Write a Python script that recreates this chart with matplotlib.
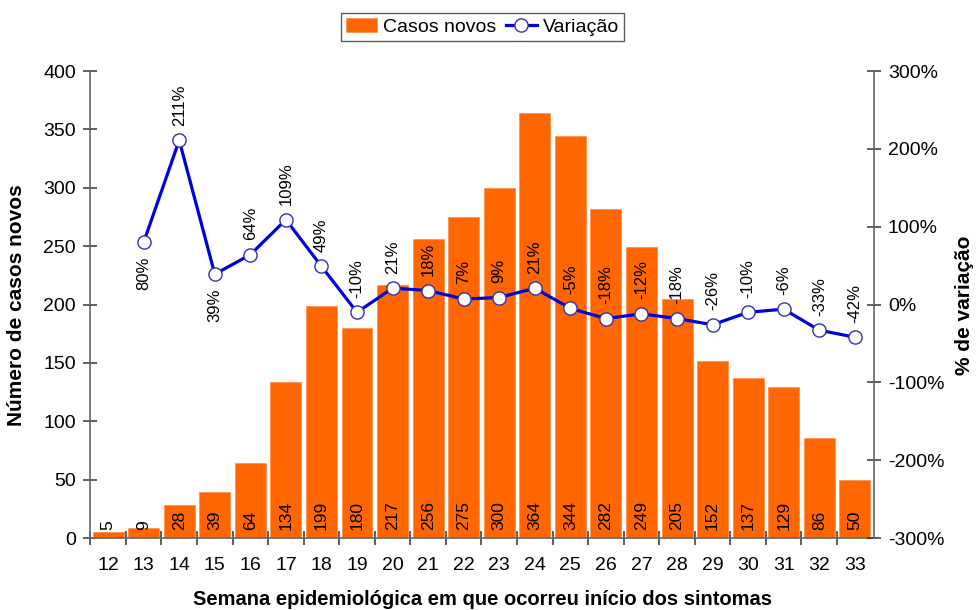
import matplotlib
matplotlib.use("Agg")
import matplotlib.pyplot as plt
from matplotlib.ticker import FuncFormatter

plt.rcParams['font.family'] = ['Liberation Sans', 'DejaVu Sans']

weeks = list(range(12, 34))
casos = [5, 9, 28, 39, 64, 134, 199, 180, 217, 256, 275, 300, 364, 344, 282, 249, 205, 152, 137, 129, 86, 50]
var_weeks = list(range(13, 34))
variacao = [80, 211, 39, 64, 109, 49, -10, 21, 18, 7, 9, 21, -5, -18, -12, -18, -26, -10, -6, -33, -42]
below = [13, 15]

fig = plt.figure(figsize=(9.77, 6.10), dpi=100)
ax = fig.add_axes([0.0921, 0.118, 0.8025, 0.7656])
ax2 = ax.twinx()

bars = ax.bar(weeks, casos, width=0.87, color='#FF6600', edgecolor='#FF8A40', linewidth=0.5,
              label='Casos novos', zorder=2)
for w, v in zip(weeks, casos):
    ax.annotate(str(v), (w, 0), xytext=(0, 5.5), textcoords='offset points', rotation=90,
                ha='center', va='bottom', fontsize=12.5, color='black', zorder=3)

ax.set_xlim(11.49, 33.54)
ax.set_ylim(0, 400)
ax.set_yticks(range(0, 401, 50))
ax.set_xticks(weeks)
ax.set_xticks([w + 0.5 for w in weeks[:-1]] + [11.5], minor=True)

line, = ax2.plot(var_weeks, variacao, color='#0000DD', lw=2.3, marker='o', ms=9.5,
                 mfc='white', mec='#3333AA', mew=1.0, label='Variação', zorder=5)
for w, v in zip(var_weeks, variacao):
    if w in below:
        ax2.annotate(f"{v}%", (w, v), xytext=(0, -10.5), textcoords='offset points',
                     rotation=90, ha='center', va='top', fontsize=12)
    else:
        ax2.annotate(f"{v}%", (w, v), xytext=(0, 10.5), textcoords='offset points',
                     rotation=90, ha='center', va='bottom', fontsize=12)
ax2.set_ylim(-300, 300)
ax2.set_yticks(range(-300, 301, 100))
ax2.yaxis.set_major_formatter(FuncFormatter(lambda x, p: f"{int(x)}%"))

for a in (ax, ax2):
    a.spines['top'].set_visible(False)
    for s in ('left', 'right', 'bottom'):
        a.spines[s].set_color('#666666')
        a.spines[s].set_linewidth(1.2)
ax.spines['right'].set_visible(False)
ax2.spines['left'].set_visible(False)
ax2.spines['bottom'].set_visible(False)

ax.tick_params(axis='y', direction='inout', length=10, width=1.1, labelsize=14, color='#333333', pad=5)
ax2.tick_params(axis='y', direction='inout', length=10, width=1.1, labelsize=14, color='#333333', pad=5)
ax.tick_params(axis='x', which='major', length=0, labelsize=14, pad=14)
ax.tick_params(axis='x', which='minor', direction='inout', length=10, width=1.1, color='#333333')

fig.text(17 / 977, 0.5, 'Número de casos novos', rotation=90, ha='center', va='center',
         fontsize=15, fontweight='bold')
fig.text(965 / 977, 0.5, '% de variação', rotation=90, ha='center', va='center',
         fontsize=15, fontweight='bold')
fig.text(0.4935, 0.017, 'Semana epidemiológica em que ocorreu início dos sintomas',
         ha='center', va='center', fontsize=14.5, fontweight='bold')

leg = fig.legend([bars, line], ['Casos novos', 'Variação'], loc='center', bbox_to_anchor=(0.4935, 0.9557),
                 ncol=2, frameon=True, fancybox=False, edgecolor='#333333', fontsize=14,
                 handlelength=1.6, columnspacing=0.5, handletextpad=0.3, borderpad=0.25)
leg.get_frame().set_linewidth(1.0)

fig.savefig('out.png', dpi=100)
